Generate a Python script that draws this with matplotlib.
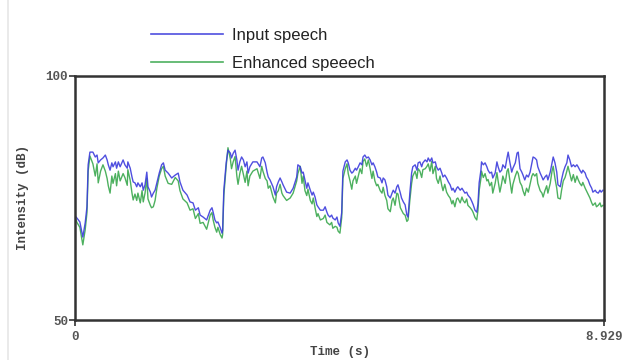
import matplotlib
matplotlib.use("Agg")
import matplotlib.pyplot as plt
from matplotlib.lines import Line2D

# Intensity contour of the utterance (dB), sampled along time (s)
time_s = [
    0.00, 0.03, 0.08, 0.13, 0.17, 0.20, 0.22, 0.25, 0.30, 0.34, 0.37, 0.39, 0.43, 0.47, 0.51, 0.54,
    0.56, 0.59, 0.62, 0.64, 0.68, 0.70, 0.73, 0.76, 0.81, 0.84, 0.88, 0.89, 0.93, 0.96, 0.98, 1.01,
    1.04, 1.06, 1.10, 1.13, 1.15, 1.18, 1.21, 1.23, 1.27, 1.29, 1.32, 1.35, 1.38, 1.42, 1.46, 1.49,
    1.52, 1.57, 1.63, 1.69, 1.74, 1.77, 1.82, 1.89, 1.94, 1.99, 2.03, 2.08, 2.11, 2.16, 2.22, 2.28,
    2.31, 2.33, 2.36, 2.39, 2.41, 2.45, 2.48, 2.49, 2.51, 2.55, 2.58, 2.62, 2.64, 2.67, 2.70, 2.73,
    2.75, 2.78, 2.81, 2.84, 2.87, 2.90, 2.92, 2.95, 3.00, 3.07, 3.12, 3.15, 3.17, 3.21, 3.24, 3.26,
    3.29, 3.34, 3.38, 3.40, 3.43, 3.46, 3.49, 3.51, 3.57, 3.63, 3.68, 3.74, 3.76, 3.80, 3.83, 3.85,
    3.88, 3.91, 3.93, 3.97, 4.00, 4.02, 4.05, 4.08, 4.10, 4.14, 4.19, 4.22, 4.25, 4.27, 4.30, 4.33,
    4.35, 4.39, 4.42, 4.44, 4.47, 4.50, 4.52, 4.56, 4.59, 4.61, 4.64, 4.67, 4.69, 4.73, 4.75, 4.78,
    4.81, 4.84, 4.86, 4.89, 4.92, 4.95, 4.98, 5.01, 5.03, 5.06, 5.09, 5.11, 5.15, 5.18, 5.20, 5.23,
    5.26, 5.28, 5.32, 5.35, 5.37, 5.40, 5.43, 5.45, 5.49, 5.51, 5.54, 5.57, 5.60, 5.62, 5.65, 5.68,
    5.70, 5.74, 5.77, 5.79, 5.82, 5.85, 5.87, 5.91, 5.94, 5.96, 5.99, 6.02, 6.04, 6.08, 6.10, 6.13,
    6.16, 6.19, 6.21, 6.24, 6.27, 6.30, 6.33, 6.36, 6.38, 6.41, 6.44, 6.46, 6.50, 6.53, 6.55, 6.58,
    6.61, 6.63, 6.67, 6.70, 6.72, 6.75, 6.78, 6.80, 6.82, 6.85, 6.86, 6.89, 6.92, 6.95, 6.97, 7.00,
    7.03, 7.05, 7.09, 7.12, 7.14, 7.17, 7.20, 7.22, 7.26, 7.29, 7.31, 7.34, 7.37, 7.39, 7.43, 7.46,
    7.48, 7.51, 7.54, 7.56, 7.59, 7.62, 7.65, 7.68, 7.71, 7.73, 7.76, 7.79, 7.81, 7.85, 7.88, 7.90,
    7.93, 7.96, 7.98, 8.02, 8.05, 8.07, 8.10, 8.13, 8.15, 8.19, 8.21, 8.24, 8.27, 8.30, 8.32, 8.35,
    8.38, 8.41, 8.44, 8.47, 8.49, 8.52, 8.55, 8.57, 8.61, 8.63, 8.66, 8.69, 8.72, 8.74, 8.78, 8.80,
    8.83, 8.86, 8.88, 8.91,
]

input_db = [
    71.3, 70.9, 70.1, 67.0, 69.9, 73.2, 81.8, 84.4, 84.4, 83.4, 83.8, 82.2, 82.8, 83.2, 83.8, 82.8,
    81.8, 80.7, 82.2, 81.4, 82.4, 81.1, 82.4, 81.4, 82.8, 81.8, 81.1, 82.4, 81.1, 79.3, 78.3, 78.1,
    77.3, 78.1, 77.3, 78.1, 76.6, 77.7, 80.3, 77.3, 76.2, 75.2, 76.0, 76.6, 78.1, 80.1, 81.8, 82.2,
    80.7, 80.1, 79.1, 79.7, 80.1, 78.3, 76.6, 75.6, 74.2, 74.0, 72.5, 73.0, 71.5, 71.1, 70.5, 72.5,
    73.0, 72.1, 70.5, 69.9, 70.1, 68.9, 67.8, 68.4, 76.6, 82.2, 84.8, 84.2, 83.2, 84.2, 84.8, 82.8,
    80.7, 82.4, 83.4, 82.8, 81.4, 82.4, 80.1, 81.4, 82.4, 82.4, 81.4, 83.2, 83.4, 82.2, 80.3, 79.3,
    78.7, 77.3, 75.6, 77.3, 78.3, 79.1, 78.3, 77.7, 76.2, 76.0, 77.0, 79.3, 81.8, 81.4, 80.1, 80.3,
    78.7, 77.0, 78.1, 76.6, 75.6, 76.2, 75.2, 73.6, 73.2, 72.5, 72.5, 73.2, 72.1, 71.5, 71.1, 71.5,
    70.9, 70.5, 71.1, 69.9, 69.2, 72.0, 80.5, 82.4, 82.8, 82.2, 80.7, 80.1, 80.3, 81.1, 80.7, 81.4,
    82.2, 81.8, 83.4, 83.8, 83.2, 83.4, 82.8, 81.8, 82.2, 81.4, 80.3, 79.3, 79.1, 78.1, 79.1, 78.7,
    77.3, 75.6, 75.0, 76.0, 76.6, 76.0, 77.3, 77.7, 76.0, 75.0, 74.2, 73.6, 71.5, 71.1, 76.0, 80.1,
    81.4, 81.8, 80.7, 82.2, 82.4, 81.4, 82.2, 82.8, 82.4, 83.2, 82.5, 83.2, 82.2, 82.4, 81.4, 80.7,
    81.1, 80.1, 79.3, 79.7, 79.1, 78.3, 77.7, 76.6, 77.0, 76.2, 77.0, 77.3, 76.6, 77.0, 76.6, 76.0,
    76.2, 75.6, 75.0, 74.2, 73.6, 72.5, 72.1, 73.8, 78.1, 80.7, 82.4, 81.8, 82.2, 81.4, 80.7, 80.1,
    80.3, 79.1, 80.1, 82.4, 81.4, 80.3, 80.7, 81.8, 81.1, 83.2, 84.4, 82.2, 80.3, 81.1, 82.2, 84.2,
    84.4, 81.0, 80.3, 79.7, 78.7, 79.7, 79.3, 80.3, 82.2, 83.4, 83.2, 82.8, 81.4, 80.1, 79.3, 78.7,
    79.3, 79.7, 78.7, 80.3, 82.2, 83.4, 82.2, 80.3, 77.7, 77.3, 78.7, 80.3, 81.4, 82.2, 83.8, 82.8,
    81.4, 81.8, 81.4, 81.8, 81.4, 80.7, 80.1, 80.7, 80.1, 79.3, 78.7, 77.7, 77.0, 76.2, 76.6, 76.2,
    76.0, 76.6, 76.2, 76.6,
]

enhanced_db = [
    71.0, 70.0, 69.0, 65.4, 68.5, 72.0, 80.5, 83.6, 82.0, 79.5, 82.0, 78.1, 80.5, 81.8, 80.5, 79.0,
    77.5, 76.0, 79.5, 78.0, 80.0, 77.5, 80.5, 78.5, 80.0, 79.2, 77.6, 80.8, 78.6, 76.0, 74.6, 75.8,
    74.5, 76.0, 74.0, 76.5, 74.2, 76.0, 79.0, 74.8, 73.5, 73.0, 73.2, 74.5, 77.0, 79.5, 81.0, 81.5,
    79.5, 78.0, 77.8, 79.2, 78.5, 76.5, 74.8, 74.0, 72.5, 72.8, 70.8, 71.8, 69.8, 70.0, 68.6, 71.5,
    72.0, 70.5, 69.0, 68.0, 69.0, 67.5, 66.8, 67.5, 75.5, 81.5, 85.3, 83.0, 81.0, 82.5, 83.5, 79.5,
    77.8, 80.0, 81.5, 79.8, 78.2, 80.5, 77.5, 79.5, 80.5, 81.0, 79.0, 81.5, 80.5, 79.0, 78.5, 77.0,
    77.5, 75.2, 74.0, 76.0, 76.5, 77.8, 76.0, 75.5, 74.5, 75.0, 76.0, 78.5, 80.0, 81.5, 78.0, 79.5,
    76.5, 75.5, 76.8, 74.5, 73.8, 75.0, 73.0, 71.2, 71.8, 70.5, 70.8, 71.5, 70.0, 69.8, 69.5, 70.0,
    68.8, 69.2, 69.0, 68.2, 67.8, 71.0, 79.0, 81.0, 82.0, 80.0, 78.5, 76.8, 78.5, 79.5, 78.0, 79.5,
    81.0, 80.0, 82.5, 83.0, 81.5, 82.8, 81.0, 79.0, 80.5, 78.5, 77.5, 77.8, 76.5, 76.0, 77.2, 75.5,
    74.5, 72.8, 72.2, 74.5, 75.0, 73.5, 76.0, 75.8, 73.0, 72.5, 71.8, 71.5, 70.2, 70.5, 74.5, 78.0,
    79.5, 80.5, 79.0, 81.0, 80.5, 79.2, 80.8, 81.0, 81.5, 82.0, 80.5, 82.5, 80.0, 81.5, 79.0, 78.0,
    79.5, 77.5, 76.5, 77.8, 76.2, 75.5, 75.0, 73.8, 74.5, 73.2, 74.8, 75.0, 74.0, 75.2, 74.5, 74.0,
    74.8, 73.5, 73.0, 72.5, 72.0, 71.0, 70.5, 72.5, 76.5, 79.0, 80.5, 79.2, 80.0, 78.5, 78.8, 77.5,
    78.2, 76.0, 78.0, 80.2, 78.5, 76.2, 78.0, 79.5, 78.0, 80.5, 81.0, 78.5, 76.0, 77.8, 79.5, 80.5,
    80.0, 78.2, 77.5, 76.5, 75.5, 77.0, 76.2, 77.8, 79.5, 80.0, 79.5, 80.0, 78.0, 76.5, 76.0, 75.2,
    76.5, 77.5, 76.0, 78.0, 80.5, 81.5, 79.0, 77.0, 75.0, 74.8, 76.5, 78.5, 79.2, 80.5, 81.5, 80.0,
    78.5, 79.8, 78.2, 79.5, 78.8, 78.0, 77.5, 78.2, 77.0, 76.5, 75.8, 75.0, 74.0, 73.5, 74.0, 73.2,
    73.5, 74.0, 73.2, 73.5,
]

x_limits = [0, 8.929]
y_limits = [50, 100]
x_tick_labels = ["0", "8.929"]
y_tick_labels = ["50", "100"]
series_labels = ["Input speech", "Enhanced speeech"]

BLUE = "#3c3cdc"
GREEN = "#3aa84e"
AXIS = "#333333"
MONO = "Liberation Mono"

fig = plt.figure(figsize=(6.26, 3.60), dpi=100)
fig.patch.set_facecolor("white")

# faint page edge on the left
fig.add_artist(Line2D([0.013, 0.013], [0, 1], transform=fig.transFigure,
                      color="#e6e6e6", lw=1.2))

ax = fig.add_axes([0.12, 0.111, 0.845, 0.678])

ln_g, = ax.plot(time_s, enhanced_db, color=GREEN, lw=1.0, alpha=0.9)
ln_b, = ax.plot(time_s, input_db, color=BLUE, lw=1.0, alpha=0.9)

ax.set_xlim(*x_limits)
ax.set_ylim(*y_limits)
ax.set_xticks(x_limits)
ax.set_xticklabels(x_tick_labels)
ax.set_yticks(y_limits)
ax.set_yticklabels(y_tick_labels)

for sp in ax.spines.values():
    sp.set_color(AXIS)
    sp.set_linewidth(1.8)

ax.tick_params(axis="y", length=4, width=1.2, color=AXIS, pad=1,
               labelsize=9, labelcolor="#555555")
ax.tick_params(axis="x", length=4, width=1.2, color=AXIS, pad=4,
               labelsize=9, labelcolor="#555555")
for lbl in ax.get_xticklabels() + ax.get_yticklabels():
    lbl.set_fontfamily(MONO)
    lbl.set_fontweight("bold")

ax.set_xlabel("Time (s)", fontfamily=MONO, fontweight="bold", fontsize=9,
              color="#444444", labelpad=2)
ax.set_ylabel("Intensity (dB)", fontfamily=MONO, fontweight="bold", fontsize=9,
              color="#444444", labelpad=12)

leg = fig.legend([ln_b, ln_g], series_labels, loc="upper left",
                 bbox_to_anchor=(0.217, 0.965), frameon=False,
                 handlelength=4.3, handletextpad=0.55, labelspacing=0.8,
                 prop={"family": "Liberation Sans", "size": 12})
for h in leg.legend_handles:
    h.set_linewidth(1.2)
for t in leg.get_texts():
    t.set_color("#222222")

fig.savefig("out.png", dpi=100, facecolor="white")
